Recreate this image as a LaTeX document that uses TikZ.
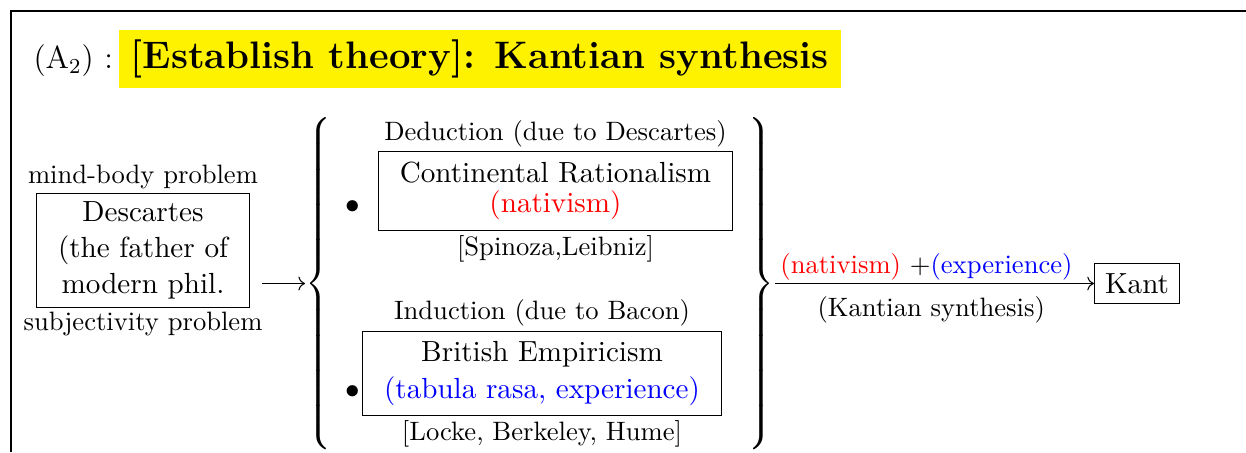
\documentclass[11pt,tikz,border=0pt]{standalone}
\usepackage{amsmath}
\usetikzlibrary{arrows.meta,positioning}
\definecolor{hlYellow}{HTML}{FFF200}
\definecolor{natRed}{HTML}{FF0000}
\definecolor{expBlue}{HTML}{0000FF}
\tikzset{
  frame/.style    ={line width=0.8pt},
  box/.style      ={draw,line width=0.4pt,inner xsep=8pt,inner ysep=3.8pt,align=center},
  kantbox/.style  ={box,inner xsep=4pt},
  headline/.style ={fill=hlYellow,inner xsep=4.6pt,minimum height=21.8pt,
                    font=\Large\bfseries},
  lbl/.style      ={font=\small,inner sep=1.5pt},
  flow/.style     ={-{Computer Modern Rightarrow},line width=0.4pt},
  dot/.style      ={inner sep=0pt},
  brace/.style    ={inner sep=0pt},
}
\newcommand{\bigbrace}[2]{$\delimiterfactor=1000 \delimitershortfall=0pt
  \left#1\vcenter{\hrule height 121pt width 0pt}\right#2$}

\begin{document}
\begin{tikzpicture}[x=0.376pt,y=-0.376pt]
\useasboundingbox (0,0) rectangle (1246,452);
\draw[frame] (1246,11) -- (11,11) -- (11,452);

% heading
\node[anchor=base west,inner sep=0pt,font=\large] (tag) at (33,68.5) {(A$_2$) :};
\node[headline,anchor=base west] (head) at (118,68.5)
  {[Establish theory]: Kantian synthesis};

% Descartes
\node[box,inner ysep=2.9pt] (desc) at (143,250.5) {Descartes\\(the father of\\modern phil.};
\node[lbl,above=0pt of desc] (mindbody) {mind-body problem};
\node[lbl,below=0pt of desc] (subj) {subjectivity problem};
\coordinate (a1) at (262,283.5);
\node[brace,anchor=west] (lb) at (305,283.5) {\bigbrace{\{}{.}};
\draw[flow] (a1) -- (lb.west);

% the two schools
\node[dot] (b1) at (353,207) {$\bullet$};
\node[box] (cont) at (555.5,191)
  {Continental Rationalism\\[-2.3pt]\textcolor{natRed}{(nativism)}};
\node[lbl,above=0pt of cont] (ded) {Deduction (due to Descartes)};
\node[lbl,below=0pt of cont] (ratn) {[Spinoza,Leibniz]};

\node[dot] (b2) at (353,392) {$\bullet$};
\node[box] (brit) at (542,373.5)
  {British Empiricism\\\textcolor{expBlue}{(tabula rasa, experience)}};
\node[lbl,above=0pt of brit] (ind) {Induction (due to Bacon)};
\node[lbl,below=0pt of brit] (empn) {[Locke, Berkeley, Hume]};

% synthesis
\node[brace,anchor=east] (rb) at (775,283.5) {\bigbrace{.}{\}}};
\node[kantbox] (kant) at (1137,283.5) {Kant};
\draw[flow] (rb.east) -- (kant.west)
  node[lbl,above,pos=0.475,inner sep=1pt] (synthtop)
    {\textcolor{natRed}{(nativism)} +\textcolor{expBlue}{(experience)}}
  node[lbl,below,pos=0.49,inner sep=4.6pt] (synthbot) {(Kantian synthesis)};
\end{tikzpicture}
\end{document}
